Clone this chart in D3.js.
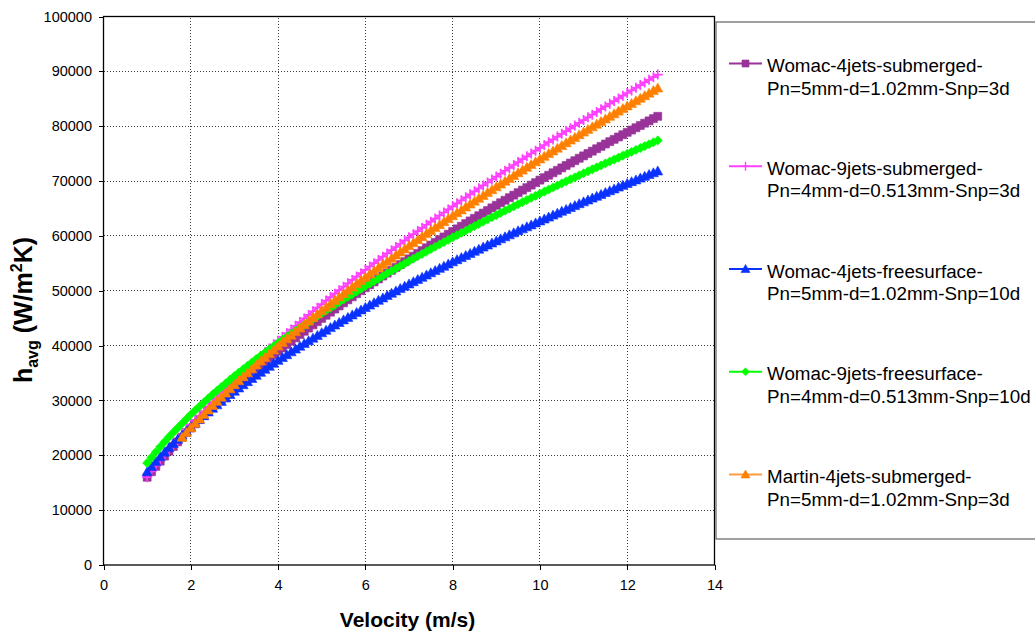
<!DOCTYPE html>
<html>
<head>
<meta charset="utf-8">
<script src="https://cdn.jsdelivr.net/npm/d3@7"></script>
<style>
  html, body { margin: 0; padding: 0; background: #fff; }
  svg { display: block; font-family: "Liberation Sans", Arial, sans-serif; }
</style>
</head>
<body>
<svg id="chart" width="1035" height="635"></svg>
<script>
// Jet velocity (m/s), shared by all five correlations
const velocity = [
  1.0,
  1.1, 1.2, 1.3, 1.4, 1.5, 1.6, 1.7, 1.8, 1.9, 2.0,
  2.1, 2.2, 2.3, 2.4, 2.5, 2.6, 2.7, 2.8, 2.9, 3.0,
  3.1, 3.2, 3.3, 3.4, 3.5, 3.6, 3.7, 3.8, 3.9, 4.0,
  4.1, 4.2, 4.3, 4.4, 4.5, 4.6, 4.7, 4.8, 4.9, 5.0,
  5.1, 5.2, 5.3, 5.4, 5.5, 5.6, 5.7, 5.8, 5.9, 6.0,
  6.1, 6.2, 6.3, 6.4, 6.5, 6.6, 6.7, 6.8, 6.9, 7.0,
  7.1, 7.2, 7.3, 7.4, 7.5, 7.6, 7.7, 7.8, 7.9, 8.0,
  8.1, 8.2, 8.3, 8.4, 8.5, 8.6, 8.7, 8.8, 8.9, 9.0,
  9.1, 9.2, 9.3, 9.4, 9.5, 9.6, 9.7, 9.8, 9.9, 10.0,
  10.1, 10.2, 10.3, 10.4, 10.5, 10.6, 10.7, 10.8, 10.9, 11.0,
  11.1, 11.2, 11.3, 11.4, 11.5, 11.6, 11.7, 11.8, 11.9, 12.0,
  12.1, 12.2, 12.3, 12.4, 12.5, 12.6, 12.7
];

// Average heat transfer coefficient h_avg (W/m^2K)
const womac4Submerged = [
  16000,
  17010, 17990, 18930, 19860, 20760, 21600, 22440, 23290, 24130, 24970,
  25740, 26510, 27270, 28040, 28810, 29530, 30240, 30960, 31670, 32390,
  33060, 33740, 34410, 35090, 35760, 36400, 37040, 37680, 38320, 38960,
  39570, 40180, 40800, 41410, 42020, 42610, 43200, 43780, 44370, 44960,
  45530, 46100, 46660, 47230, 47800, 48350, 48900, 49450, 50000, 50550,
  51080, 51610, 52150, 52680, 53210, 53730, 54250, 54770, 55290, 55810,
  56310, 56820, 57320, 57830, 58330, 58820, 59320, 59810, 60310, 60800,
  61280, 61760, 62250, 62730, 63210, 63680, 64160, 64630, 65110, 65580,
  66040, 66500, 66970, 67430, 67890, 68350, 68800, 69260, 69710, 70170,
  70620, 71060, 71510, 71950, 72400, 72840, 73280, 73710, 74150, 74590,
  75020, 75450, 75890, 76320, 76750, 77180, 77600, 78030, 78450, 78880,
  79300, 79720, 80130, 80550, 80970, 81390, 81800
];

const womac9Submerged = [
  16000,
  17070, 18100, 19110, 20090, 21050, 21960, 22860, 23770, 24670, 25580,
  26410, 27250, 28080, 28920, 29750, 30530, 31310, 32100, 32880, 33660,
  34400, 35140, 35880, 36620, 37360, 38070, 38780, 39480, 40190, 40900,
  41580, 42260, 42930, 43610, 44290, 44950, 45600, 46260, 46910, 47570,
  48200, 48840, 49470, 50110, 50740, 51360, 51970, 52590, 53200, 53820,
  54420, 55020, 55610, 56210, 56810, 57400, 57980, 58570, 59150, 59740,
  60310, 60880, 61460, 62030, 62600, 63160, 63720, 64270, 64830, 65390,
  65940, 66490, 67030, 67580, 68130, 68670, 69210, 69740, 70280, 70820,
  71350, 71880, 72400, 72930, 73460, 73980, 74500, 75020, 75540, 76060,
  76570, 77080, 77590, 78100, 78610, 79110, 79610, 80120, 80620, 81120,
  81620, 82110, 82610, 83100, 83600, 84090, 84580, 85070, 85560, 86050,
  86530, 87010, 87500, 87980, 88460, 88940, 89410
];

const womac4Free = [
  17000,
  17940, 18850, 19730, 20570, 21400, 22160, 22920, 23670, 24430, 25190,
  25870, 26550, 27220, 27900, 28580, 29200, 29830, 30450, 31080, 31700,
  32280, 32860, 33430, 34010, 34590, 35130, 35680, 36220, 36770, 37310,
  37830, 38340, 38860, 39370, 39890, 40380, 40870, 41360, 41850, 42340,
  42810, 43280, 43750, 44220, 44690, 45140, 45590, 46050, 46500, 46950,
  47390, 47820, 48260, 48690, 49130, 49550, 49970, 50400, 50820, 51240,
  51650, 52060, 52460, 52870, 53280, 53680, 54080, 54470, 54870, 55270,
  55660, 56040, 56430, 56810, 57200, 57580, 57960, 58330, 58710, 59090,
  59460, 59830, 60190, 60560, 60930, 61290, 61650, 62010, 62370, 62730,
  63080, 63430, 63790, 64140, 64490, 64830, 65180, 65520, 65870, 66210,
  66550, 66890, 67220, 67560, 67900, 68230, 68560, 68900, 69230, 69560,
  69890, 70210, 70540, 70860, 71190, 71510, 71830
];

const womac9Free = [
  18600,
  19620, 20600, 21550, 22470, 23350, 24170, 24990, 25800, 26620, 27440,
  28170, 28900, 29640, 30370, 31100, 31770, 32440, 33110, 33780, 34450,
  35070, 35690, 36320, 36940, 37560, 38150, 38730, 39320, 39900, 40490,
  41040, 41590, 42150, 42700, 43250, 43780, 44300, 44830, 45350, 45880,
  46380, 46890, 47390, 47900, 48400, 48880, 49370, 49850, 50340, 50820,
  51290, 51760, 52220, 52690, 53160, 53610, 54060, 54510, 54960, 55410,
  55850, 56290, 56720, 57160, 57600, 58020, 58450, 58870, 59300, 59720,
  60130, 60550, 60960, 61380, 61790, 62190, 62590, 63000, 63400, 63800,
  64190, 64590, 64980, 65380, 65770, 66150, 66540, 66920, 67310, 67690,
  68070, 68440, 68820, 69190, 69570, 69940, 70310, 70670, 71040, 71410,
  71770, 72130, 72490, 72850, 73210, 73560, 73920, 74270, 74630, 74980,
  75330, 75670, 76020, 76360, 76710, 77060, 77400
];

// Martin correlation starts at 1.8 m/s
const martin4Submerged = [
  null,
  null, null, null, null, null, null, null, 23300, 24170, 25020,
  25830, 26640, 27460, 28270, 29080, 29840, 30600, 31360, 32120, 32880,
  33600, 34320, 35040, 35760, 36480, 37170, 37850, 38540, 39220, 39910,
  40570, 41230, 41890, 42550, 43210, 43850, 44480, 45120, 45750, 46390,
  47010, 47620, 48240, 48850, 49470, 50070, 50670, 51260, 51860, 52460,
  53040, 53620, 54200, 54780, 55360, 55930, 56500, 57060, 57630, 58200,
  58750, 59310, 59860, 60420, 60970, 61510, 62050, 62600, 63140, 63680,
  64210, 64740, 65280, 65810, 66340, 66860, 67380, 67900, 68420, 68940,
  69450, 69960, 70480, 70990, 71500, 72000, 72510, 73010, 73520, 74020,
  74510, 75010, 75500, 76000, 76490, 76980, 77470, 77950, 78440, 78930,
  79410, 79890, 80370, 80850, 81330, 81800, 82270, 82750, 83220, 83690,
  84160, 84630, 85090, 85560, 86030, 86490, 86950
];

const seriesNames = [
  ["Womac-4jets-submerged-", "Pn=5mm-d=1.02mm-Snp=3d"],
  ["Womac-9jets-submerged-", "Pn=4mm-d=0.513mm-Snp=3d"],
  ["Womac-4jets-freesurface-", "Pn=5mm-d=1.02mm-Snp=10d"],
  ["Womac-9jets-freesurface-", "Pn=4mm-d=0.513mm-Snp=10d"],
  ["Martin-4jets-submerged-", "Pn=5mm-d=1.02mm-Snp=3d"]
];
const seriesValues = [womac4Submerged, womac9Submerged, womac4Free, womac9Free, martin4Submerged];

const xTicks = [0, 2, 4, 6, 8, 10, 12, 14];
const yTicks = [0, 10000, 20000, 30000, 40000, 50000, 60000, 70000, 80000, 90000, 100000];

// Marker glyphs and colours per series (plot size, legend size)
const markerStyles = [
  { color: "#993399", line: "#993399", path: "M-4,-4h8v8h-8z", legendPath: "M-3.5,-3.5h7v7h-7z", fill: true },
  { color: "#ff40ff", line: "#ff40ff", path: "M-5,0H5M0,-5V5", legendPath: "M-4.5,0H4.5M0,-4.5V4.5", fill: false },
  { color: "#0a32ff", line: "#0a32ff", path: "M0,-5L5,4L-5,4Z", legendPath: "M0,-4.5L4.5,3.5L-4.5,3.5Z", fill: true },
  { color: "#00ff00", line: "#00ff00", path: "M0,-4.6L4.6,0L0,4.6L-4.6,0Z", legendPath: "M0,-4L4,0L0,4L-4,0Z", fill: true },
  { color: "#ff8000", line: "#ff9a40", path: "M0,-5L5,4L-5,4Z", legendPath: "M0,-4.5L4.5,3.5L-4.5,3.5Z", fill: true }
];

const svg = d3.select("#chart");

const x = d3.scaleLinear().domain([0, 14]).range([103.5, 714.5]);
const y = d3.scaleLinear().domain([0, 100000]).range([565, 16.5]);

// Dotted grid
const grid = svg.append("g").attr("shape-rendering", "crispEdges")
  .attr("stroke", "#3a3a3a").attr("stroke-width", 1).attr("stroke-dasharray", "1.5,1.5");
grid.selectAll("line.gx").data(xTicks.slice(1, -1)).join("line")
  .attr("x1", d => x(d)).attr("x2", d => x(d))
  .attr("y1", y(0)).attr("y2", y(100000));
grid.selectAll("line.gy").data(yTicks.slice(1, -1)).join("line")
  .attr("x1", x(0)).attr("x2", x(14))
  .attr("y1", d => y(d)).attr("y2", d => y(d));

// Axes
const yAxis = svg.append("g").attr("transform", `translate(${x(0)},0)`)
  .call(d3.axisLeft(y).tickValues(yTicks).tickSize(5).tickSizeOuter(0).tickPadding(6.5).tickFormat(d => String(d)));
const xAxis = svg.append("g").attr("transform", `translate(0,${y(0)})`)
  .call(d3.axisBottom(x).tickValues(xTicks).tickSize(5).tickSizeOuter(0).tickPadding(10).tickFormat(d => String(d)));
[yAxis, xAxis].forEach(a => {
  a.select(".domain").remove();
  a.selectAll(".tick line").attr("stroke", "#000").attr("shape-rendering", "crispEdges");
  a.selectAll(".tick text").attr("fill", "#000")
    .style("font-family", '"Liberation Sans", Arial, sans-serif').style("font-size", "14.5px");
});

// Plot frame
svg.append("rect")
  .attr("x", x(0)).attr("y", y(100000))
  .attr("width", x(14) - x(0)).attr("height", y(0) - y(100000))
  .attr("fill", "none").attr("stroke", "#000").attr("stroke-width", 1.3);

// Series
const lineGen = d3.line()
  .defined(d => d.h != null)
  .x(d => x(d.v)).y(d => y(d.h));

const plot = svg.append("g");
seriesValues.forEach((vals, i) => {
  const st = markerStyles[i];
  const pts = velocity.map((v, k) => ({ v, h: vals[k] }));
  const g = plot.append("g");
  g.append("path").datum(pts)
    .attr("d", lineGen).attr("fill", "none")
    .attr("stroke", st.line).attr("stroke-width", 2);
  g.selectAll("path.m").data(pts.filter(d => d.h != null)).join("path")
    .attr("class", "m")
    .attr("transform", d => `translate(${x(d.v)},${y(d.h)})`)
    .attr("d", st.path)
    .attr("fill", st.fill ? st.color : "none")
    .attr("stroke", st.color)
    .attr("stroke-width", st.fill ? 0.6 : 1.7);
});

// Axis titles
svg.append("text")
  .attr("x", 407.5).attr("y", 626.5)
  .attr("text-anchor", "middle")
  .style("font-weight", "bold").style("font-size", "21px")
  .text("Velocity (m/s)");

const yt = svg.append("text")
  .attr("transform", "translate(32,310) rotate(-90)")
  .attr("text-anchor", "middle")
  .style("font-weight", "bold").style("font-size", "25px");
yt.append("tspan").text("h");
yt.append("tspan").attr("dy", 6).style("font-size", "16px").text("avg");
yt.append("tspan").attr("dy", -6).text(" (W/m");
yt.append("tspan").attr("dy", -10).style("font-size", "16px").text("2");
yt.append("tspan").attr("dy", 10).text("K)");

// Legend
const legend = svg.append("g");
legend.append("rect")
  .attr("x", 716).attr("y", 22).attr("width", 340).attr("height", 517)
  .attr("fill", "#fff").attr("stroke", "#6e6e6e").attr("stroke-width", 1.3);

seriesNames.forEach((lines, i) => {
  const st = markerStyles[i];
  const base = 72 + i * 102.75;
  const g = legend.append("g");
  g.append("line")
    .attr("x1", 729).attr("x2", 762)
    .attr("y1", base - 8.5).attr("y2", base - 8.5)
    .attr("stroke", st.line).attr("stroke-width", 2);
  g.append("path")
    .attr("transform", `translate(745.5,${base - 8.5})`)
    .attr("d", st.legendPath)
    .attr("fill", st.fill ? st.color : "none")
    .attr("stroke", st.color)
    .attr("stroke-width", st.fill ? 0.6 : 1.4);
  const t = g.append("text").attr("x", 767).attr("y", base)
    .style("font-size", "18.8px").attr("fill", "#000");
  t.append("tspan").attr("x", 767).text(lines[0]);
  t.append("tspan").attr("x", 767).attr("dy", 22.5).text(lines[1]);
});
</script>
</body>
</html>
